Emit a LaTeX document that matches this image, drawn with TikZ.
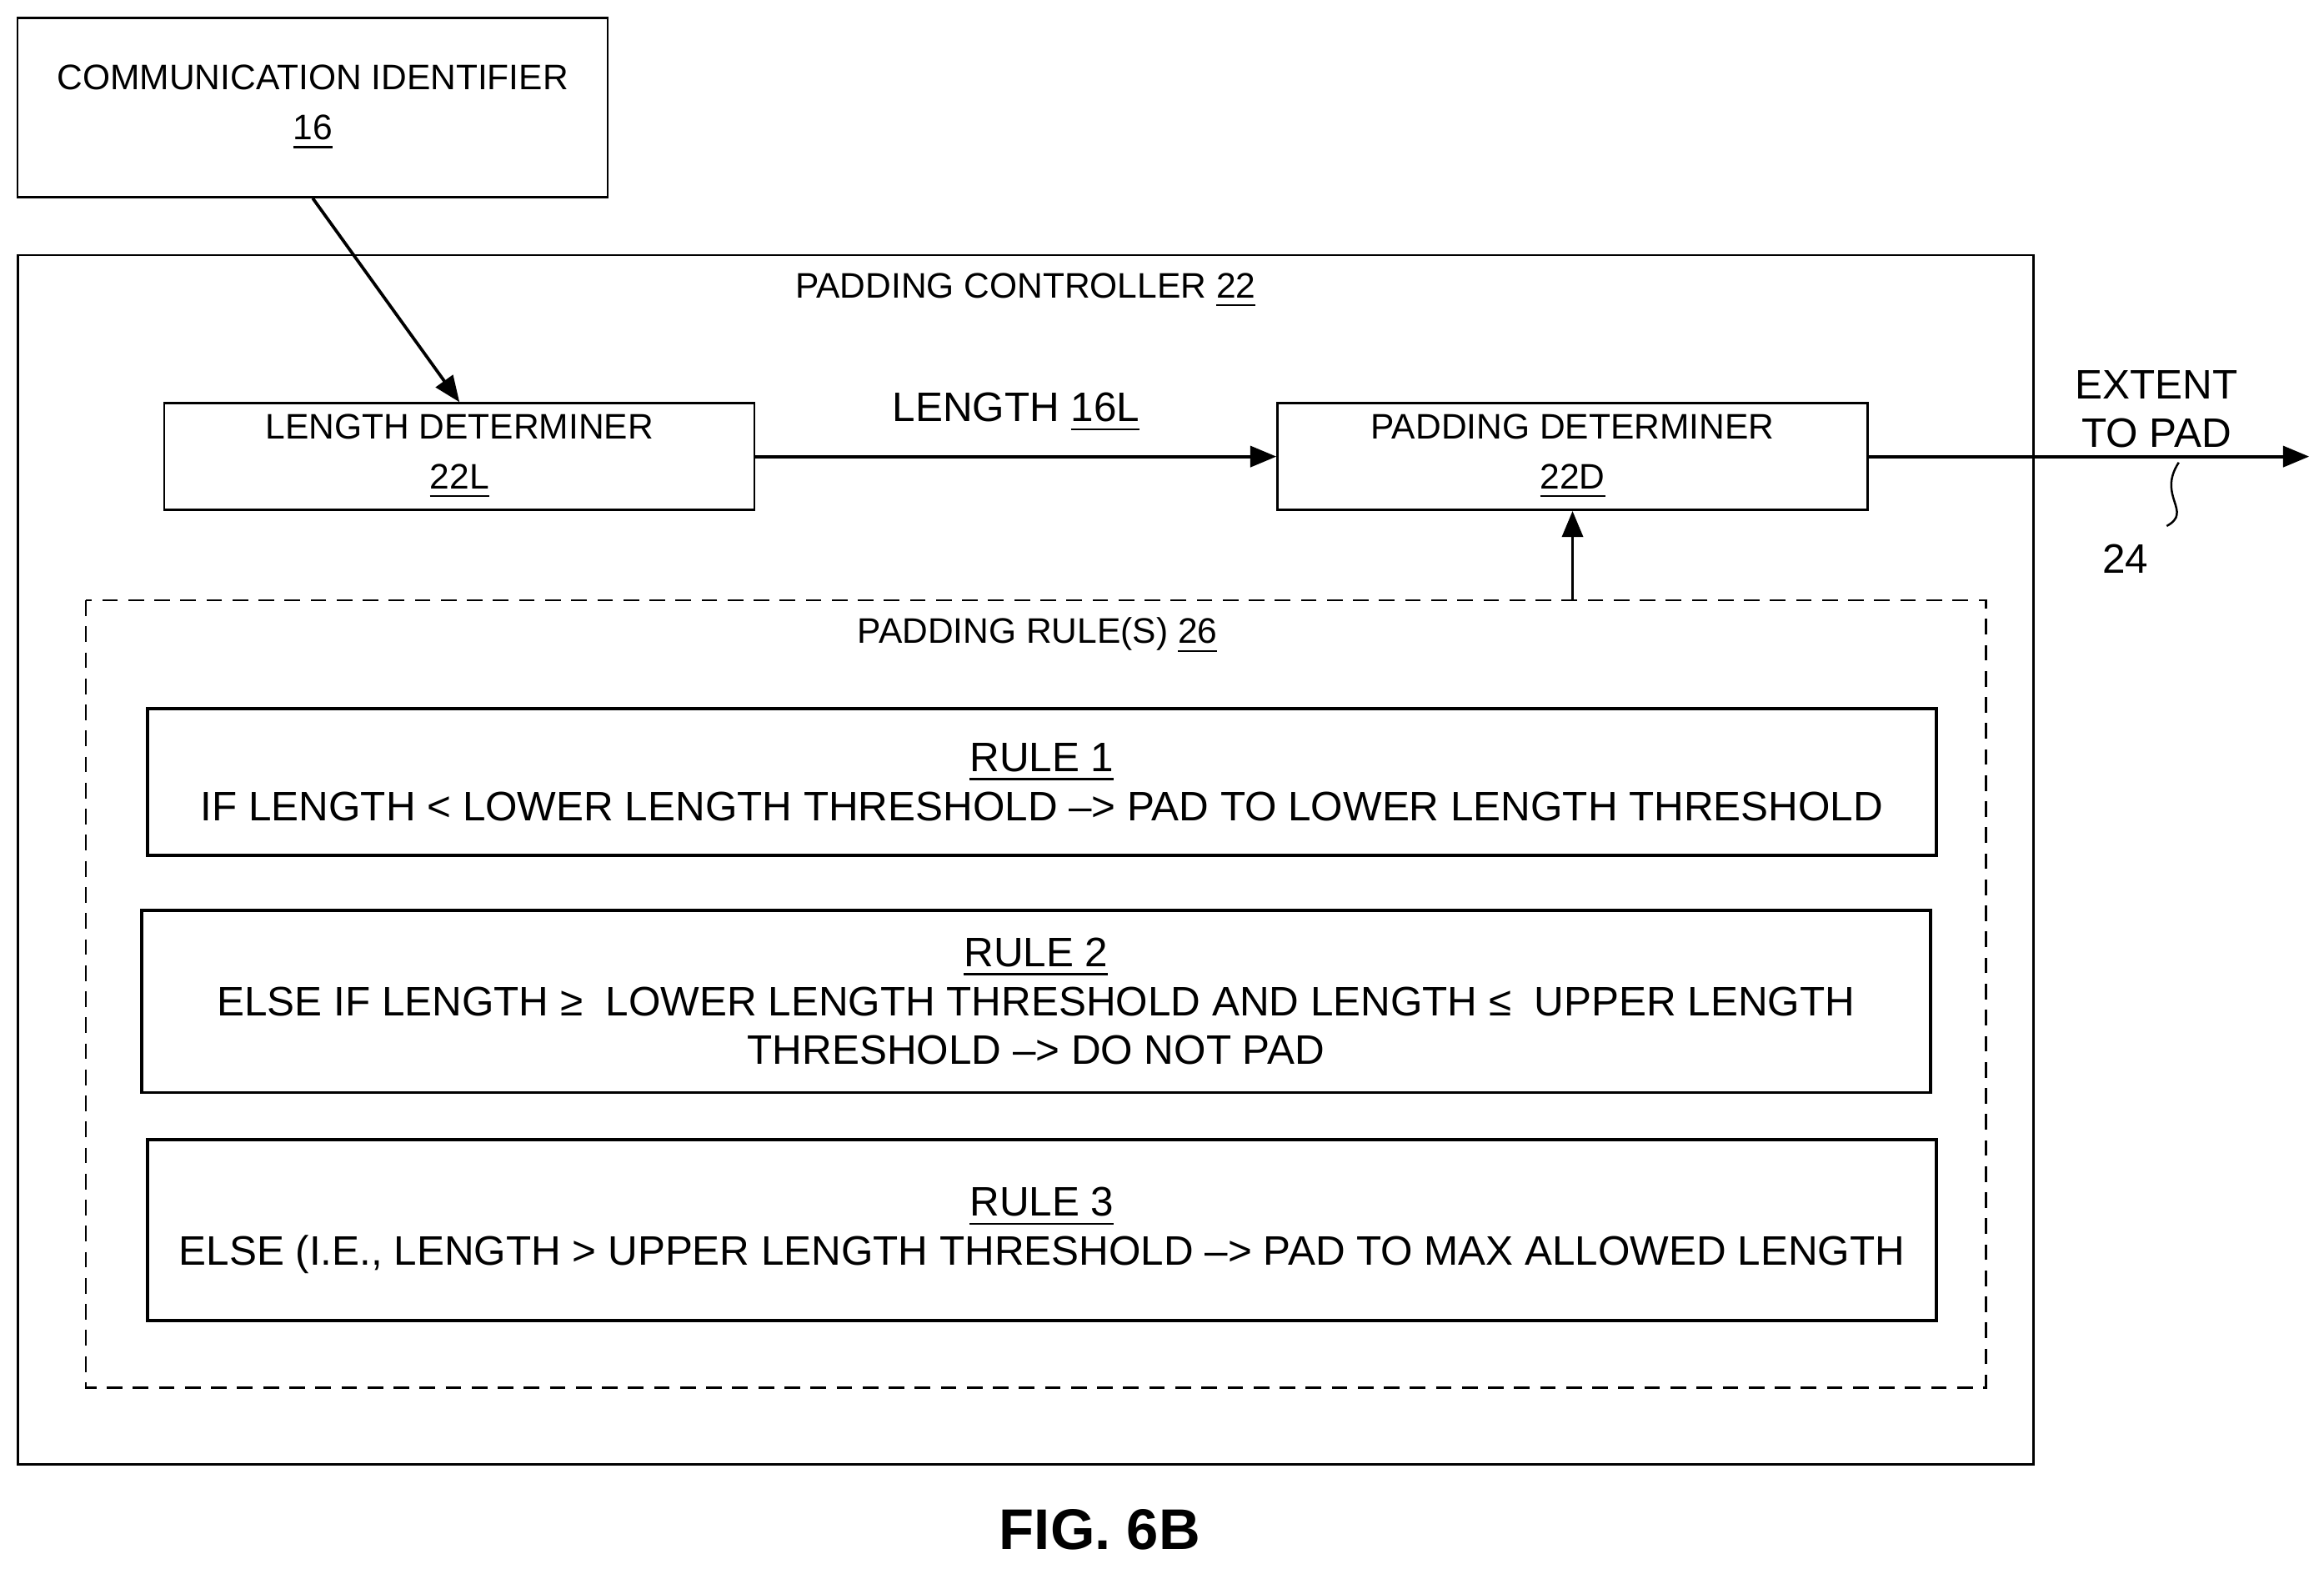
\documentclass[tikz,border=0pt]{standalone}
\usepackage{fontspec}
\setmainfont{Liberation Sans}
\usetikzlibrary{positioning,arrows.meta}
\tikzset{
  blk/.style={draw,thin,inner sep=0pt,align=center,font=\fontsize{6.8}{8.6}\selectfont},
  rule/.style={draw,semithick,inner sep=0pt,align=center,font=\fontsize{7.9}{9.4}\selectfont},
  lbl/.style={align=center,font=\fontsize{6.8}{8.6}\selectfont},
  arr/.style={-{Triangle[length=5pt,width=4pt]},semithick}
}
\begin{document}
\begin{tikzpicture}[x=0.01cm,y=-0.01cm]
\useasboundingbox (0,0) rectangle (1568,1058);
% outer boxes
\node[blk,minimum width=398\pgflinewidth,minimum width=3.98cm,minimum height=1.21cm] (comm) at (211,72.5) {COMMUNICATION IDENTIFIER\\[1pt]\underline{16}};
\draw[thin] (12,172) rectangle (1372,988);
\node[lbl] (ctl) at (692,196) {PADDING CONTROLLER \underline{22}};
\node[blk,minimum width=3.98cm,minimum height=0.72cm] (len) at (310,308) {LENGTH DETERMINER\\[1pt]\underline{22L}};
\node[blk,minimum width=3.98cm,minimum height=0.72cm] (pad) at (1061,308) {PADDING DETERMINER\\[1pt]\underline{22D}};
% rules
\draw[densely dashed,thin] (58,405) rectangle (1340,936);
\node[lbl] (rl) at (700,429) {PADDING RULE(S) \underline{26}};
\coordinate (rtop) at (1061,405);
\node[rule,minimum width=12.06cm,minimum height=0.99cm] (r1) at (703,527.5) {\underline{RULE 1}\\IF LENGTH < LOWER LENGTH THRESHOLD --> PAD TO LOWER LENGTH THRESHOLD};
\node[rule,minimum width=12.06cm,minimum height=1.23cm] (r2) at (699,675.5) {\underline{RULE 2}\\ELSE IF LENGTH ≥\ \ LOWER LENGTH THRESHOLD AND LENGTH ≤\ \ UPPER LENGTH\\THRESHOLD --> DO NOT PAD};
\node[rule,minimum width=12.06cm,minimum height=1.22cm] (r3) at (703,830) {\underline{RULE 3}\\ELSE (I.E., LENGTH > UPPER LENGTH THRESHOLD --> PAD TO MAX ALLOWED LENGTH};
% connectors
\draw[arr] (comm.south) -- (len.north);
\draw[arr] (len) -- node[above=1pt,font=\fontsize{7.9}{9.4}\selectfont]{LENGTH \underline{16L}} (pad);
\draw[arr] (rtop) -- (pad.south);
\coordinate (out) at (1558,308);
\draw[arr] (pad) -- (out);
\node[align=center,font=\fontsize{7.9}{9.4}\selectfont] (ext) at (1455,276) {EXTENT\\TO PAD};
\node[font=\fontsize{7.9}{9.4}\selectfont] (n24) at (1434,377) {24};
\draw[thin] (1470,312) .. controls (1455,335) and (1480,345) .. (n24.north east);
\node[font=\bfseries\fontsize{11}{13}\selectfont] (fig) at (742,1032) {FIG. 6B};
\end{tikzpicture}
\end{document}
